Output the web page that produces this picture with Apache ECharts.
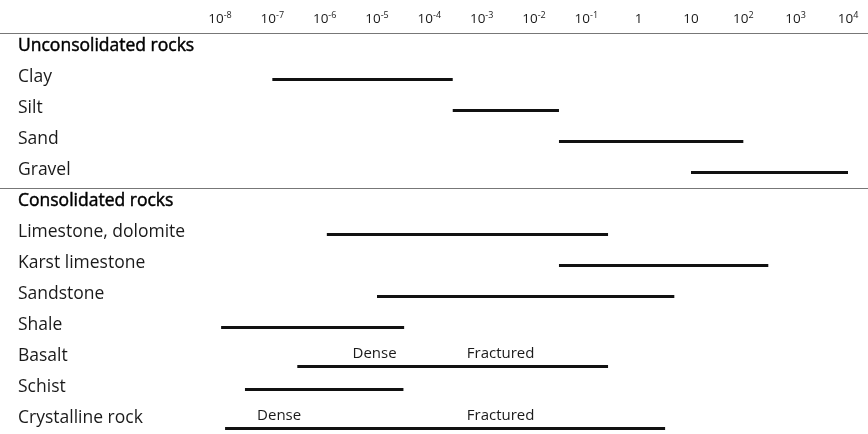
<!DOCTYPE html>
<html>
<head>
<meta charset="utf-8">
<style>
  html, body { margin: 0; padding: 0; background: #fff; }
  #chart { width: 868px; height: 434px; }
</style>
<script src="https://cdn.jsdelivr.net/npm/echarts@6/dist/echarts.min.js"></script>
</head>
<body>
<div id="chart"></div>
<script>
// Rows, top to bottom; section headings have no range
const rowNames = [
  'Unconsolidated rocks', 'Clay', 'Silt', 'Sand', 'Gravel',
  'Consolidated rocks', 'Limestone, dolomite', 'Karst limestone', 'Sandstone',
  'Shale', 'Basalt', 'Schist', 'Crystalline rock'
];
const sectionRows = ['Unconsolidated rocks', 'Consolidated rocks'];

// Hydraulic conductivity range of each row (low and high end)
const rangeLow  = [null, 1e-7,   2.8e-4, 3e-2, 10,  null, 1.1e-6, 3e-2, 1e-5, 1.05e-8, 3e-7, 3e-8,   1.25e-8];
const rangeHigh = [null, 2.8e-4, 3e-2,   1e2,  1e4, null, 0.26,   300,  4.8,  3.3e-5,  0.26, 3.2e-5, 3.2];

// Notes written above some ranges
const noteRow   = ['Basalt', 'Basalt', 'Crystalline rock', 'Crystalline rock'];
const noteText  = ['Dense', 'Fractured', 'Dense', 'Fractured'];
const noteValue = [9e-6, 2.3e-3, 1.35e-7, 2.3e-3];

// Axis extent, in powers of ten
const axisMinExp = -8;
const axisMaxExp = 4;

const FONT = '"Open Sans", "Noto Sans", sans-serif';
const INK = '#1a1a1a';

const rangeData = [];
rowNames.forEach((name, i) => {
  if (rangeLow[i] != null) rangeData.push([i, rangeLow[i], rangeHigh[i]]);
});
const noteData = noteRow.map((r, i) => ({ value: [rowNames.indexOf(r), noteValue[i]], name: noteText[i] }));
const notedRows = new Set(noteRow.map(r => rowNames.indexOf(r)));

function tickLabel(v) {
  const e = Math.round(Math.log10(v));
  if (e === 0) return '{b|1}';
  if (e === 1) return '{b|10}';
  return '{b|10}{s|' + e + '}';
}

const chart = echarts.init(document.getElementById('chart'), null, { renderer: 'canvas' });

chart.setOption({
  animation: false,
  backgroundColor: '#fff',
  grid: { left: 220, right: 20, top: 29.5, bottom: 1.5, containLabel: false },
  xAxis: {
    type: 'log',
    logBase: 10,
    position: 'top',
    min: Math.pow(10, axisMinExp),
    max: Math.pow(10, axisMaxExp),
    interval: 1,
    splitNumber: axisMaxExp - axisMinExp,
    axisLine: { show: false },
    axisTick: { show: false },
    splitLine: { show: false },
    axisLabel: {
      interval: 0,
      hideOverlap: false,
      margin: 2,
      formatter: tickLabel,
      rich: {
        b: { fontFamily: FONT, fontSize: 13.5, color: INK, lineHeight: 17 },
        s: { fontFamily: FONT, fontSize: 9, color: INK, lineHeight: 9, verticalAlign: 'top' }
      }
    }
  },
  yAxis: {
    type: 'category',
    data: rowNames,
    inverse: true,
    axisLine: { show: false },
    axisTick: { show: false },
    splitLine: { show: false },
    axisLabel: {
      interval: 0,
      align: 'left',
      margin: 202,
      formatter: v => sectionRows.includes(v) ? '{h|' + v + '}' : '{r|' + v + '}',
      rich: {
        h: { fontFamily: FONT, fontSize: 17.5, color: '#000', textBorderColor: '#000', textBorderWidth: 0.45, padding: [3, 0, 0, 0] },
        r: { fontFamily: FONT, fontSize: 17.5, color: INK, padding: [3, 0, 0, 0] }
      }
    }
  },
  series: [
    {
      type: 'custom',
      name: 'ranges',
      data: rangeData,
      encode: { x: [1, 2], y: 0 },
      renderItem(params, api) {
        const row = api.value(0);
        const a = api.coord([api.value(1), row]);
        const b = api.coord([api.value(2), row]);
        const y = Math.round(a[1]) + (notedRows.has(row) ? 11 : 3) + 0.5;
        return {
          type: 'line',
          shape: { x1: a[0], y1: y, x2: b[0], y2: y },
          style: { stroke: '#111', lineWidth: 3, lineCap: 'butt' }
        };
      }
    },
    {
      type: 'custom',
      name: 'notes',
      data: noteData,
      encode: { x: 1, y: 0 },
      renderItem(params, api) {
        const p = api.coord([api.value(1), api.value(0)]);
        return {
          type: 'text',
          x: p[0],
          y: p[1] - 1,
          style: {
            text: noteText[params.dataIndex],
            fontFamily: FONT,
            fontSize: 15,
            fill: INK,
            align: 'center',
            verticalAlign: 'middle'
          }
        };
      }
    }
  ]
});

// Rules across the full width above each section heading
const rules = sectionRows.map(name => {
  const y = Math.round(chart.convertToPixel({ yAxisIndex: 0 }, name) - 12.5) + 0.5;
  return {
    type: 'line',
    shape: { x1: 0, y1: y, x2: 868, y2: y },
    style: { stroke: '#777', lineWidth: 1 },
    silent: true
  };
});
chart.setOption({ graphic: rules });
</script>
</body>
</html>
